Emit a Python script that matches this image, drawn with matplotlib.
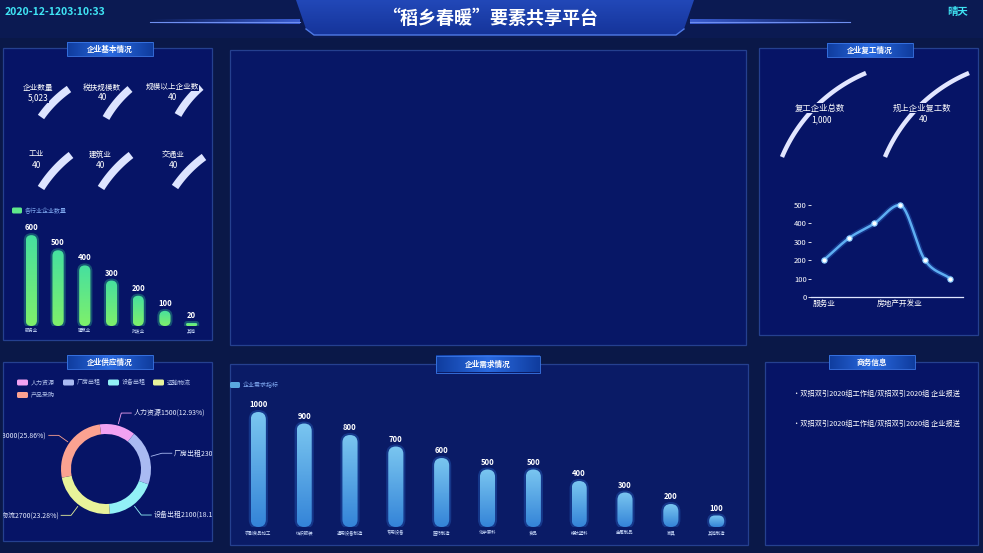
import numpy as np
import matplotlib
matplotlib.use('Agg')
import matplotlib.pyplot as plt
from matplotlib.patches import Rectangle, FancyBboxPatch, Polygon
from matplotlib.colors import LinearSegmentedColormap

plt.rcParams['font.family'] = ['Noto Sans CJK SC', 'DejaVu Sans']

W, H = 983, 553

# ---------------- data ----------------
header_time = "2020-12-1203:10:33"
weather = "晴天"
title_text = "“稻乡春暖”要素共享平台"

panel_titles = ["企业基本情况", "企业供应情况", "企业需求情况", "企业复工情况", "商务信息"]

stat_labels = ["企业数量", "税扶规模数", "规模以上企业数", "工业", "建筑业", "交通业"]
stat_values = ["5,023", "40", "40", "40", "40", "40"]

industry_legend = "各行业企业数量"
industry_cats = ["服务业", "工业", "建筑业", "交通业", "批发业", "零售业", "其他"]
industry_vals = [600, 500, 400, 300, 200, 100, 20]

supply_names = ["人力资源", "厂房出租", "设备出租", "运输物流", "产品采购"]
supply_vals = [1500, 2300, 2100, 2700, 3000]

demand_legend = "企业需求指标"
demand_cats = ["农副食品加工", "纺织服装", "通用设备制造", "专用设备", "医药制造",
               "化学原料", "食品", "橡胶塑料", "金属制品", "家具", "其他制造"]
demand_vals = [1000, 900, 800, 700, 600, 500, 500, 400, 300, 200, 100]

resume_labels = ["复工企业总数", "规上企业复工数"]
resume_values = ["1,000", "40"]

trend_cats = ["服务业", "工业", "建筑业", "房地产开发业", "批发业", "零售业"]
trend_vals = [200, 320, 400, 500, 200, 100]
trend_yticks = [0, 100, 200, 300, 400, 500]

news_items = ["·双招双引2020组工作组/双招双引2020组 企业报送",
              "·双招双引2020组工作组/双招双引2020组 企业报送"]

# ---------------- styling ----------------
BG = '#0a1848'
PANEL = '#061466'
EDGE = '#25408f'
WHITE = '#ffffff'

fig = plt.figure(figsize=(W / 100, H / 100), dpi=100)
fig.patch.set_facecolor(BG)

bg = fig.add_axes([0, 0, 1, 1])
bg.set_xlim(0, W)
bg.set_ylim(H, 0)
bg.axis('off')
bg.set_zorder(0)


def px_axes(x0, y0, x1, y1):
    a = fig.add_axes([x0 / W, 1 - y1 / H, (x1 - x0) / W, (y1 - y0) / H])
    a.patch.set_alpha(0)
    a.set_zorder(2)
    return a


def grad_img(ax, extent, c_a, c_b, horizontal=False, mid=None, zorder=1, clip=None, alpha=1):
    cols = [c_a, c_b] if mid is None else [c_a, mid, c_b]
    cmap = LinearSegmentedColormap.from_list('g', cols)
    if horizontal:
        img = np.linspace(0, 1, 128).reshape(1, -1)
    else:
        img = np.linspace(0, 1, 128).reshape(-1, 1)
    im = ax.imshow(img, extent=extent, origin='lower', cmap=cmap, aspect='auto',
                   zorder=zorder, alpha=alpha, interpolation='bilinear')
    if clip is not None:
        im.set_clip_path(clip)
    return im


# header
bg.add_patch(Rectangle((0, 0), W, 38, fc='#0b1a52', ec='none', zorder=0.5))
grad_img(bg, (150, 300, 24, 19), '#0b1a52', '#3a5cd0', horizontal=True, zorder=0.6)
grad_img(bg, (690, 850, 24, 19), '#3a5cd0', '#0b1a52', horizontal=True, zorder=0.6)
bg.plot([150, 300], [21.5, 21.5], color='#6f8ff0', lw=0.8, zorder=0.7)
bg.plot([690, 850], [21.5, 21.5], color='#6f8ff0', lw=0.8, zorder=0.7)
banner = Polygon([(296, 0), (694, 0), (684, 29), (676, 35), (314, 35), (306, 29)],
                 closed=True, fc='none', ec='none')
bg.add_patch(banner)
grad_img(bg, (296, 694, 35, 0), '#15349a', '#2248b8', zorder=0.8, clip=banner)
bg.plot([306, 314, 676, 684], [29, 35, 35, 29], color='#4f7ae6', lw=1.0, zorder=0.9)
bg.text(5, 12, header_time, color='#3fe4f4', fontsize=7.5, fontweight='bold',
        va='center', ha='left', zorder=3)
bg.text(958, 12, weather, color='#3fe4f4', fontsize=7.5, fontweight='bold',
        va='center', ha='center', zorder=3)
bg.text(490, 18, title_text, color=WHITE, fontsize=13, fontweight='bold',
        va='center', ha='center', zorder=3)


def panel(x0, y0, x1, y1, face=PANEL):
    bg.add_patch(Rectangle((x0, y0), x1 - x0, y1 - y0, fc=face, ec=EDGE, lw=0.9, zorder=0.5))


def title_box(cx, cy, text, w=86, h=14):
    grad_img(bg, (cx - w / 2, cx + w / 2, cy + h / 2, cy - h / 2), '#0f3c9e', '#0f3c9e',
             horizontal=True, mid='#2a6ae0', zorder=1.2)
    bg.add_patch(Rectangle((cx - w / 2, cy - h / 2), w, h, fc='none', ec='#3b78e8', lw=0.6, zorder=1.3))
    bg.text(cx, cy, text, color=WHITE, fontsize=5.5, fontweight='bold', ha='center', va='center', zorder=1.4)


panel(3, 48, 212, 340)
panel(3, 362, 212, 541)
panel(230, 50, 746, 345, face='#071766')
panel(230, 364, 748, 545, face='#0a1b66')
panel(759, 48, 978, 335)
panel(765, 362, 978, 545)

title_box(110, 49, panel_titles[0])
title_box(110, 362, panel_titles[1])
title_box(488, 364, panel_titles[2], w=104, h=17)
title_box(870, 50, panel_titles[3])
title_box(872, 362, panel_titles[4])


# ---------------- gauge-like arcs ----------------
def arc_stroke(p0, p1, lw, color, span=44.5, z=1.5):
    # arc from lower-left p0 to upper-right p1 (pixel coords, top-down)
    x0, y0 = p0
    x1, y1 = p1
    L = np.hypot(x1 - x0, y1 - y0)
    d = np.radians(span)
    r = L / (2 * np.sin(d / 2))
    chord = np.arctan2(-(y1 - y0), x1 - x0)
    mx, my = (x0 + x1) / 2, -(y0 + y1) / 2
    h = r * np.cos(d / 2)
    cx = mx + h * np.cos(chord - np.pi / 2)
    cy = my + h * np.sin(chord - np.pi / 2)
    a0 = np.arctan2(-y0 - cy, x0 - cx)
    a1 = np.arctan2(-y1 - cy, x1 - cx)
    t = np.linspace(a0, a1, 60)
    bg.plot(cx + r * np.cos(t), -(cy + r * np.sin(t)), color=color, lw=lw,
            solid_capstyle='butt', zorder=z)


stat_pos = [(38, 88, 98), (102, 88, 98), (172, 87, 97), (36, 154, 165), (100, 155, 165), (173, 155, 165)]
stripe_pts = [((41, 117), (69, 89)), ((106, 118), (130, 89)), ((178, 115), (201, 87)),
              ((41, 188), (71, 155)), ((101, 188), (131, 155)), ((175, 187), (204, 157))]
for (p0, p1) in stripe_pts:
    arc_stroke(p0, p1, 5.5, '#dde4ff', span=20)
for lab, val, (cx, ly, vy) in zip(stat_labels, stat_values, stat_pos):
    bg.text(cx, ly, lab, color=WHITE, fontsize=5.5, ha='center', va='center', zorder=3,
            bbox=dict(fc=PANEL, ec='none', pad=0.3))
    bg.text(cx, vy, val, color=WHITE, fontsize=6, ha='center', va='center', zorder=3,
            bbox=dict(fc=PANEL, ec='none', pad=0.2))

arc_stroke((782, 157), (866, 73), 3.2, '#e2e6ff')
arc_stroke((885, 157), (969, 73), 3.2, '#e2e6ff')
for lab, val, cx in zip(resume_labels, resume_values, [820, 922]):
    bg.text(cx, 108, lab, color=WHITE, fontsize=6, ha='center', va='center', zorder=3,
            bbox=dict(fc=PANEL, ec='none', pad=0.3))
    bg.text(cx + 1, 120, val, color=WHITE, fontsize=6, ha='center', va='center', zorder=3,
            bbox=dict(fc=PANEL, ec='none', pad=0.2))


# ---------------- rounded gradient bars ----------------
def round_bars(ax, xs, vals, width, px_w, px_h, c_top, c_bot, glow):
    bars = ax.bar(xs, vals, width, color='none', edgecolor='none')
    xl = ax.get_xlim()
    yl = ax.get_ylim()
    xpp = (xl[1] - xl[0]) / px_w
    ypp = (yl[1] - yl[0]) / px_h
    asp = ypp / xpp
    for b in bars:
        bx, bw, bh = b.get_x(), b.get_width(), b.get_height()
        w_px, h_px = bw / xpp, bh / ypp
        r_px = min(w_px / 2, max(h_px / 2, 1))
        gp = 2.0
        gl = FancyBboxPatch((bx - gp * xpp, -gp * ypp), bw + 2 * gp * xpp, bh + 2 * gp * ypp,
                            boxstyle=f"round,pad=0,rounding_size={(r_px + gp) * xpp}",
                            mutation_aspect=asp, fc=glow, ec='none', alpha=0.35, zorder=2)
        ax.add_patch(gl)
        pt = FancyBboxPatch((bx, 0), bw, bh, boxstyle=f"round,pad=0,rounding_size={r_px * xpp}",
                            mutation_aspect=asp, fc='none', ec='none', zorder=3)
        ax.add_patch(pt)
        grad_img(ax, (bx, bx + bw, 0, bh), c_bot, c_top, zorder=3, clip=pt)
    ax.set_xlim(xl)
    ax.set_ylim(yl)
    return bars


# left bar chart
ax1 = px_axes(18, 215, 205, 326)
n1 = len(industry_vals)
x1 = np.arange(n1)
ax1.set_xlim(-0.5, n1 - 0.5)
ax1.set_ylim(0, 733)
round_bars(ax1, x1, industry_vals, 0.42, 187, 111, '#46e0a0', '#7ff06a', '#35c890')
for xi, v in zip(x1, industry_vals):
    ax1.text(xi, v + 20, f"{v}", color=WHITE, fontsize=5.5, fontweight='bold', ha='center', va='bottom')
ax1.axis('off')
for i, c in enumerate(industry_cats):
    if i % 2 == 0:
        ax1.text(i, -12, c, color='#cfe0ff', fontsize=3.2, ha='center', va='top', clip_on=False)
bg.add_patch(FancyBboxPatch((12, 207.5), 10, 6, boxstyle="round,pad=0,rounding_size=1.5",
                            fc='#5fe88a', ec='none', zorder=2))
bg.text(25, 210.5, industry_legend, color='#7fa8f0', fontsize=4.3, va='center', ha='left', zorder=2)

# middle bar chart
ax2 = px_axes(235.4, 395, 739.6, 527)
n2 = len(demand_vals)
x2 = np.arange(n2)
ax2.set_xlim(-0.5, n2 - 0.5)
ax2.set_ylim(0, 1148)
round_bars(ax2, x2, demand_vals, 0.33, 504.2, 132, '#7ac6f0', '#3484d8', '#2a6ed0')
for xi, v in zip(x2, demand_vals):
    ax2.text(xi, v + 22, f"{v}", color=WHITE, fontsize=5.5, fontweight='bold', ha='center', va='bottom')
    ax2.text(xi, -30, demand_cats[xi], color='#cfe0ff', fontsize=3.2, ha='center', va='top', clip_on=False)
ax2.axis('off')
bg.add_patch(FancyBboxPatch((230, 382), 10, 6, boxstyle="round,pad=0,rounding_size=1.5",
                            fc='#5aa8e0', ec='none', zorder=2))
bg.text(243, 385, demand_legend, color='#7fa8f0', fontsize=4.3, va='center', ha='left', zorder=2)

# donut chart
sup_colors = ['#f2a2f2', '#a9baf2', '#92f1f6', '#e8f39a', '#fba291']
axd = px_axes(3, 372, 212, 541)
wedges, _ = axd.pie(supply_vals, colors=sup_colors, startangle=98, counterclock=False,
                    radius=45, center=(106, H - 469),
                    wedgeprops=dict(width=10, edgecolor='none'))
axd.set_xlim(3, 212)
axd.set_ylim(H - 541, H - 372)
axd.set_aspect('auto')
axd.axis('off')
tot = sum(supply_vals)
cx0, cy0 = 106, H - 469
for w_, name, v, col in zip(wedges, supply_names, supply_vals, sup_colors):
    th = np.radians((w_.theta1 + w_.theta2) / 2)
    r1, r2 = 47, 58
    p1 = (cx0 + r1 * np.cos(th), cy0 + r1 * np.sin(th))
    p2 = (cx0 + r2 * np.cos(th), cy0 + r2 * np.sin(th))
    sgn = 1 if np.cos(th) >= 0 else -1
    p3 = (p2[0] + sgn * 10, p2[1])
    axd.plot([p1[0], p2[0], p3[0]], [p1[1], p2[1], p3[1]], color=col, lw=0.6)
    axd.text(p3[0] + sgn * 2, p3[1], f"{name}{v}({v / tot * 100:.2f}%)", color='#e6ecff',
             fontsize=5, ha='left' if sgn > 0 else 'right', va='center', clip_on=True)

leg_items = [(17, 382.5), (63, 382.5), (108, 382.5), (153, 382.5), (17, 395)]
for (lx, ly), name, col in zip(leg_items, supply_names, sup_colors):
    bg.add_patch(FancyBboxPatch((lx, ly - 3), 11, 6, boxstyle="round,pad=0,rounding_size=1.5",
                                fc=col, ec='none', zorder=2))
    bg.text(lx + 14, ly, name, color='#b8c8f0', fontsize=4.3, va='center', ha='left', zorder=2)


# line chart
def mono_smooth(xs, ys, n=30):
    xs = np.asarray(xs, float)
    ys = np.asarray(ys, float)
    m = np.gradient(ys, xs)
    d = np.diff(ys)
    for i in range(1, len(ys) - 1):
        if d[i - 1] * d[i] <= 0:
            m[i] = 0.0
    ox, oy = [], []
    for i in range(len(xs) - 1):
        t = np.linspace(0, 1, n)
        h = xs[i + 1] - xs[i]
        h00 = 2 * t ** 3 - 3 * t ** 2 + 1
        h10 = t ** 3 - 2 * t ** 2 + t
        h01 = -2 * t ** 3 + 3 * t ** 2
        h11 = t ** 3 - t ** 2
        ox.append(xs[i] + t * h)
        oy.append(h00 * ys[i] + h10 * h * m[i] + h01 * ys[i + 1] + h11 * h * m[i + 1])
    return np.concatenate(ox), np.concatenate(oy)


ax3 = px_axes(811, 205, 963, 297)
n3 = len(trend_vals)
x3 = np.arange(n3)
sx, sy = mono_smooth(x3, trend_vals)
ax3.plot(sx, sy, color='#2f6fd0', lw=4, alpha=0.35, solid_capstyle='round', clip_on=False)
ax3.plot(sx, sy, color='#5eaef2', lw=1.8, clip_on=False)
ax3.scatter(x3, trend_vals, s=14, color=WHITE, edgecolor='#8fd0ff', linewidth=0.8, zorder=5, clip_on=False)
ax3.set_xlim(-0.5, n3 - 0.5)
ax3.set_ylim(0, 500)
ax3.set_yticks(trend_yticks)
ax3.set_yticklabels([str(t) for t in trend_yticks])
ax3.set_xticks(x3)
ax3.set_xticklabels([c if i % 3 == 0 else "" for i, c in enumerate(trend_cats)])
for s in ['top', 'right', 'left']:
    ax3.spines[s].set_visible(False)
ax3.spines['bottom'].set_color('#dfe6ff')
ax3.spines['bottom'].set_linewidth(0.9)
ax3.tick_params(axis='y', colors=WHITE, labelsize=5.5, length=2, width=0.6, pad=1)
ax3.tick_params(axis='x', colors=WHITE, labelsize=5.5, length=0, pad=2)

# news
for i, t in enumerate(news_items):
    bg.text(793, 394 + 30 * i, t, color=WHITE, fontsize=5.2, ha='left', va='center', zorder=3)

fig.savefig('out.png', dpi=100, facecolor=BG)
